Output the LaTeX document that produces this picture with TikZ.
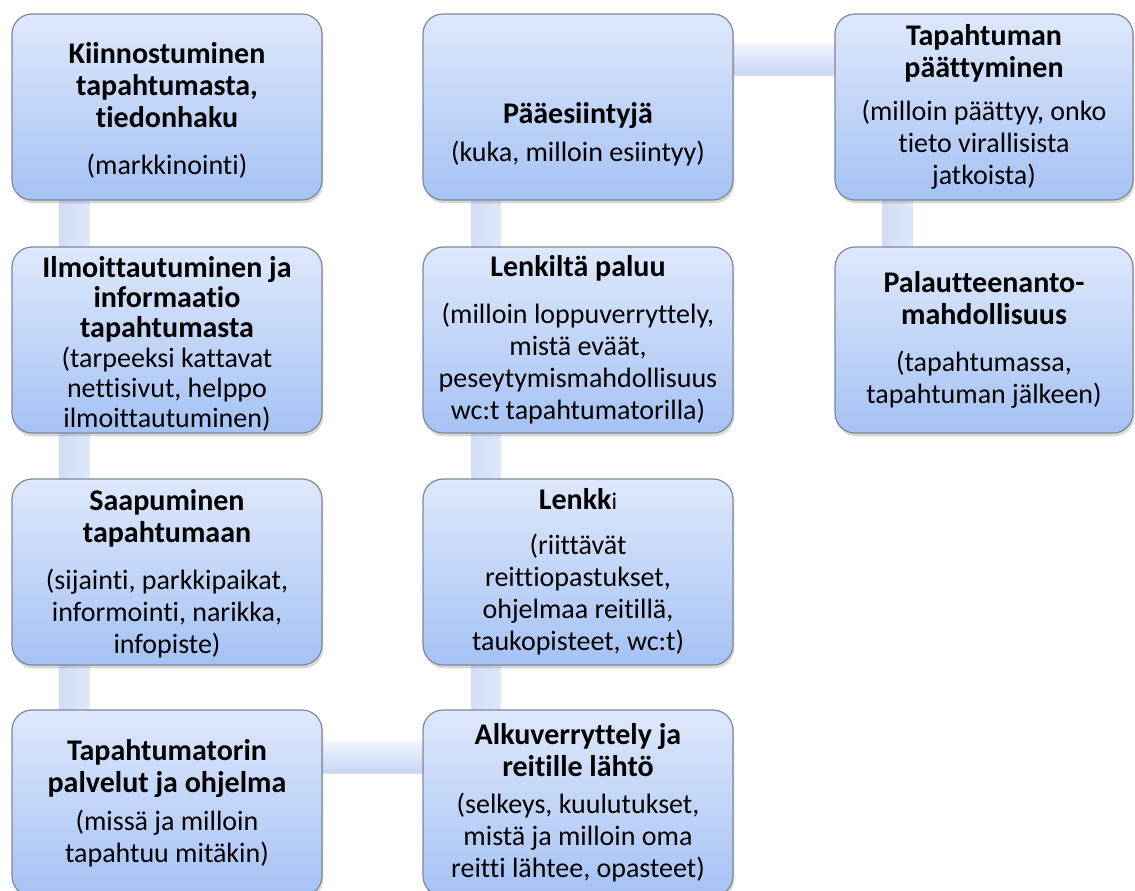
\documentclass[tikz,border=0pt]{standalone}
\usepackage{fontspec}
\setmainfont[Ligatures=NoCommon]{Carlito}
\usetikzlibrary{shadows,backgrounds}

\definecolor{boxtop}{HTML}{DEE8FB}
\definecolor{boxbot}{HTML}{A5C2F4}
\definecolor{boxedge}{HTML}{7D8898}
\definecolor{bartop}{HTML}{F0F4FD}
\definecolor{barbot}{HTML}{C8D7F4}
\definecolor{barleft}{HTML}{D2DDF6}
\definecolor{barright}{HTML}{DEE7FA}

\newcommand{\ttl}{\fontsize{22.5}{24}\selectfont\bfseries}

\tikzset{
  stagebox/.style={draw=boxedge, line width=0.9pt, rounded corners=15pt,
    top color=boxtop, bottom color=boxbot,
    minimum width=232.5pt, minimum height=139.5pt, inner sep=0pt,
    align=center, font=\fontsize{21}{24}\selectfont,
    drop shadow={opacity=0.3, shadow xshift=1pt, shadow yshift=-2.5pt}},
  vbar/.style={left color=barleft, right color=barright},
  hbar/.style={top color=bartop, bottom color=barbot,
    drop shadow={opacity=0.25, shadow xshift=0pt, shadow yshift=-1.5pt}},
}

\begin{document}
\begin{tikzpicture}[x=0.75pt,y=0.75pt,yscale=-1]
  \useasboundingbox (0,0) rectangle (1135,890);
  \clip (0,0) rectangle (1135,890);

  % first column
  \node[stagebox] (kiinn) at (167,107)
    {\rule{0pt}{21pt}\ttl Kiinnostuminen\\ \ttl tapahtumasta,\\ \ttl tiedonhaku\\[11pt](markkinointi)};
  \node[stagebox, font=\fontsize{21}{22.5}\selectfont] (ilmo) at (167,340)
    {\rule{0pt}{21pt}\ttl Ilmoittautuminen ja\\ \ttl informaatio\\ \ttl tapahtumasta\\(tarpeeksi kattavat\\nettisivut, helppo\\ilmoittautuminen)};
  \node[stagebox] (saap) at (167,572)
    {\rule{0pt}{18pt}\ttl Saapuminen\\ \ttl tapahtumaan\\[11pt](sijainti, parkkipaikat,\\informointi, narikka,\\infopiste)};
  \node[stagebox] (tori) at (167,803)
    {\ttl Tapahtumatorin\\ \ttl palvelut ja ohjelma\\[4.5pt](missä ja milloin\\tapahtuu mitäkin)};

  % second column
  \node[stagebox] (alku) at (578,803)
    {\ttl Alkuverryttely ja\\ \ttl reitille lähtö\\[4pt](selkeys, kuulutukset,\\mistä ja milloin oma\\reitti lähtee, opasteet)};
  \node[stagebox] (lenkki) at (578,572)
    {{\ttl Lenkk}{\fontsize{18}{24}\selectfont i}\\[10pt](riittävät\\reittiopastukset,\\ohjelmaa reitillä,\\taukopisteet, wc:t)};
  \node[stagebox] (paluu) at (578,340)
    {\ttl Lenkiltä paluu\\[11pt](milloin loppuverryttely,\\mistä eväät,\\peseytymismahdollisuus\\wc:t tapahtumatorilla)};
  \node[stagebox] (paa) at (578,107)
    {\rule{0pt}{56.5pt}\ttl Pääesiintyjä\\[4.5pt](kuka, milloin esiintyy)};

  % third column
  \node[stagebox, minimum width=223.5pt] (tap) at (984,107)
    {\ttl Tapahtuman\\ \ttl päättyminen\\[8pt](milloin päättyy, onko\\tieto virallisista\\jatkoista)};
  \node[stagebox, minimum width=223.5pt] (pal) at (984,340)
    {\ttl Palautteenanto-\\ \ttl mahdollisuus\\[11pt](tapahtumassa,\\tapahtuman jälkeen)};

  % connectors
  \begin{scope}[on background layer]
    \path[vbar] ([xshift=36pt]kiinn.south west) rectangle ([xshift=58.5pt]ilmo.north west);
    \path[vbar] ([xshift=36pt]ilmo.south west) rectangle ([xshift=58.5pt]saap.north west);
    \path[vbar] ([xshift=36pt]saap.south west) rectangle ([xshift=58.5pt]tori.north west);
    \path[vbar] ([xshift=36.75pt]lenkki.south west) rectangle ([xshift=58.5pt]alku.north west);
    \path[vbar] ([xshift=36.75pt]paluu.south west) rectangle ([xshift=58.5pt]lenkki.north west);
    \path[vbar] ([xshift=36.75pt]paa.south west) rectangle ([xshift=58.5pt]paluu.north west);
    \path[vbar] ([xshift=36pt]tap.south west) rectangle ([xshift=58.5pt]pal.north west);

    \path[hbar] ([yshift=23.25pt]paa.north east) rectangle ([yshift=45.75pt]tap.north west);
    \path[hbar] ([yshift=24pt]tori.north east) rectangle ([yshift=47.25pt]alku.north west);
  \end{scope}
\end{tikzpicture}
\end{document}
